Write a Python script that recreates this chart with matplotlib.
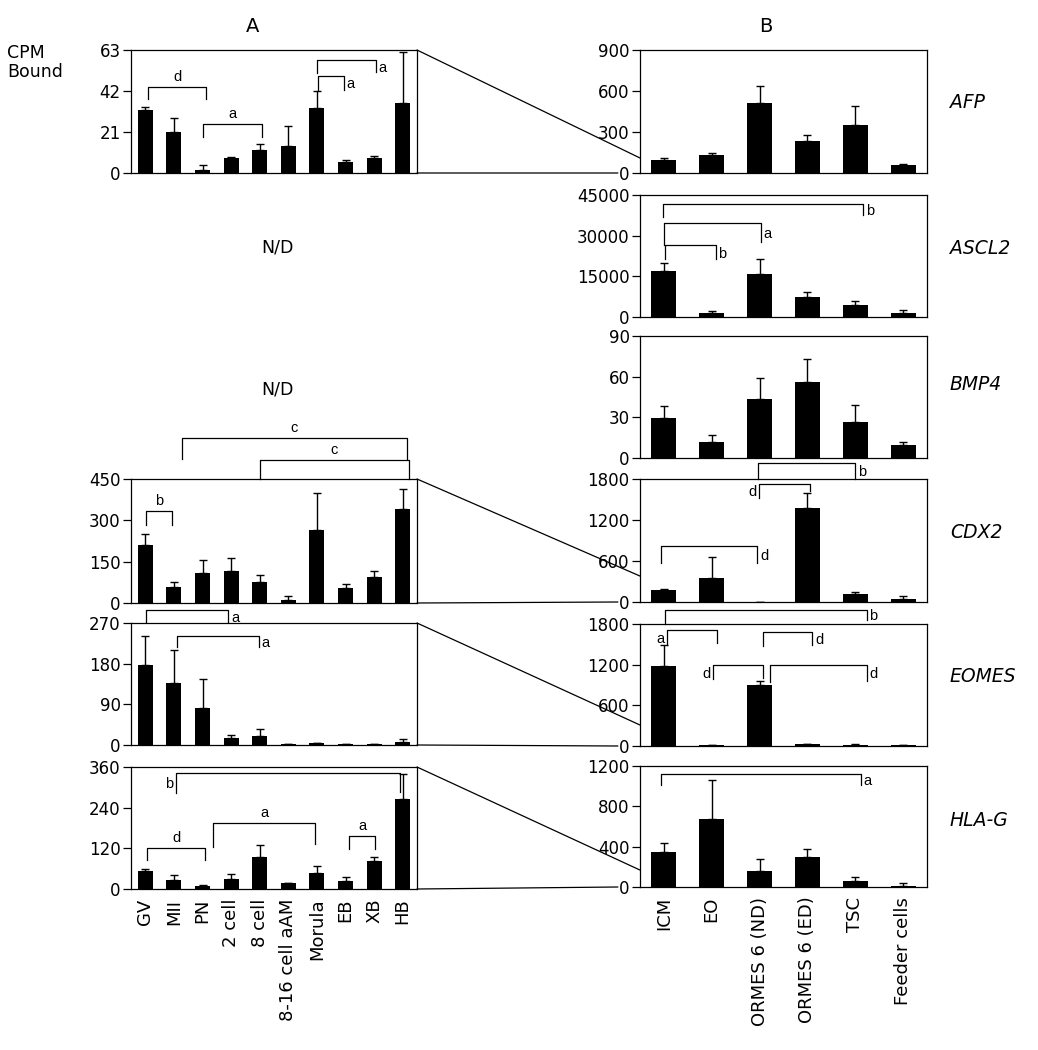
import numpy as np
import matplotlib
matplotlib.use('Agg')
import matplotlib.pyplot as plt
from matplotlib.patches import ConnectionPatch

plt.rcParams['font.family'] = ['DejaVu Sans']

# categories
stages = ['GV', 'MII', 'PN', '2 cell', '8 cell', '8-16 cell aAM', 'Morula', 'EB', 'XB', 'HB']
cells = ['ICM', 'EO', 'ORMES 6 (ND)', 'ORMES 6 (ED)', 'TSC', 'Feeder cells']

# panel A (embryo stages), mean and upper error
afp_a = [32.2, 21.1, 1.7, 7.5, 11.6, 14.0, 33.4, 5.7, 7.5, 35.6]
afp_a_err = [1.7, 7.2, 2.6, 0.9, 3.1, 10.0, 8.7, 0.8, 1.4, 26.2]
cdx2_a = [212, 58, 108, 116, 75, 10, 266, 53, 95, 341]
cdx2_a_err = [40, 17, 49, 46, 25, 15, 134, 17, 21, 73]
eomes_a = [178, 138, 82, 15, 21, 2, 4.4, 2, 2, 6.6]
eomes_a_err = [63, 72, 65, 7, 14, 0.5, 0.6, 0.3, 0.3, 6]
hlag_a = [54, 26, 10, 30, 94, 16.6, 46, 23, 83, 265]
hlag_a_err = [4.5, 15, 2, 14, 37, 0.3, 21, 12, 12, 75]

# panel B (cell lines)
afp_b = [98, 134, 509, 232, 349, 57]
afp_b_err = [12, 10, 127, 44, 144, 11]
ascl2_b = [17137, 1480, 15780, 7400, 4560, 1600]
ascl2_b_err = [2960, 620, 5670, 1850, 1340, 870]
bmp4_b = [29.3, 11.7, 43.5, 56.0, 26.9, 9.3]
bmp4_b_err = [9.3, 5.2, 15.2, 16.9, 12.5, 2.7]
cdx2_b = [172, 358, 5, 1378, 113, 44]
cdx2_b_err = [24, 304, 0, 216, 34, 39]
eomes_b = [1185, 10, 900, 25, 15, 10]
eomes_b_err = [305, 0, 54, 0, 15, 0]
hlag_b = [345, 671, 155, 302, 56, 13]
hlag_b_err = [95, 388, 121, 73, 39, 26]

# significance brackets: (x1, x2, y, leg1 end, leg2 end, letter, label side)
br_afp_a = [(0.1, 2.12, 44.2, 37.7, 37.7, 'd', 'top'),
            (2.0, 4.08, 25.0, 18.5, 18.5, 'a', 'top'),
            (6.0, 8.05, 57.9, 51.0, 51.5, 'a', 'right'),
            (6.05, 6.95, 49.7, 42.5, 42.5, 'a', 'right')]
br_cdx2_a = [(0.03, 0.92, 335, 282, 282, 'b', 'top'),
             (1.28, 9.15, 598, 524, 524, 'c', 'top'),
             (4.0, 9.22, 519, 450, 450, 'c', 'top')]
br_eomes_a = [(0.01, 2.9, 298, 272, 272, 'a', 'right'),
              (1.1, 3.96, 241, 217, 217, 'a', 'right')]
br_hlag_a = [(1.06, 8.9, 343, 282, 285, 'b', 'left'),
             (0.05, 2.1, 121, 85, 85, 'd', 'top'),
             (2.36, 5.94, 195, 124, 132, 'a', 'top'),
             (7.13, 8.04, 157, 119, 119, 'a', 'top')]
br_ascl2_b = [(-0.02, 4.16, 41670, 36990, 37600, 'b', 'right'),
              (0.0, 2.03, 34520, 26500, 27740, 'a', 'right'),
              (0.02, 1.08, 26500, 21330, 21330, 'b', 'right')]
br_cdx2_b = [(1.97, 3.99, 2035, 1800, 1800, 'b', 'right'),
             (1.99, 3.05, 1726, 1520, 1618, 'd', 'left'),
             (-0.07, 1.95, 819, 574, 574, 'd', 'right')]
br_eomes_b = [(0.02, 4.24, 2007, 1800, 1860, 'b', 'right'),
              (0.06, 1.1, 1712, 1490, 1515, 'a', 'left'),
              (2.07, 3.1, 1677, 1476, 1490, 'd', 'right'),
              (1.03, 2.07, 1195, 984, 1000, 'd', 'left'),
              (2.22, 4.24, 1195, 949, 960, 'd', 'right')]
br_hlag_b = [(-0.07, 4.12, 1124, 1009, 1009, 'a', 'right')]

W, H = 1038, 1050
fig = plt.figure(figsize=(W / 100, H / 100), dpi=100)
LETTER_FONT = ['Liberation Sans', 'DejaVu Sans']


def add_ax(x0, x1, ytop, ybot):
    return fig.add_axes([x0 / W, 1 - ybot / H, (x1 - x0) / W, (ybot - ytop) / H])


def panel(ax, vals, errs, ticks, brackets, labels=None):
    n = len(vals)
    x = np.arange(n)
    ax.bar(x, vals, width=0.52, color='black')
    ax.errorbar(x, vals, yerr=[np.zeros(n), errs], fmt='none', ecolor='black',
                elinewidth=1.0, capsize=2.8, capthick=1.0)
    ax.set_xlim(-0.5, n - 0.5)
    ax.set_ylim(0, ticks[-1])
    ax.set_yticks(ticks)
    ax.set_yticklabels([str(t) for t in ticks])
    ax.tick_params(axis='y', length=5.5, width=0.9, labelsize=12, pad=2)
    ax.tick_params(axis='x', length=0, labelsize=13, pad=7)
    if labels is None:
        ax.set_xticks([])
    else:
        ax.set_xticks(x)
        ax.set_xticklabels(labels, rotation=90)
    for s in ax.spines.values():
        s.set_linewidth(0.9)
    for x1, x2, y, l1, l2, txt, side in brackets:
        ax.plot([x1, x1, x2, x2], [l1, y, y, l2], color='black', lw=0.9, clip_on=False)
        kw = dict(textcoords='offset points', fontsize=10.5, family=LETTER_FONT,
                  annotation_clip=False)
        if side == 'top':
            ax.annotate(txt, ((x1 + x2) / 2, y), xytext=(0, 2), ha='center', va='bottom', **kw)
        elif side == 'right':
            ax.annotate(txt, (x2, (y + l2) / 2), xytext=(2, -1), ha='left', va='center', **kw)
        else:
            ax.annotate(txt, (x1, (y + l1) / 2), xytext=(-2, -1), ha='right', va='center', **kw)


def connect(axl, axr, frac):
    for a, b in [((1, 1), (0, frac)), ((1, 0), (-0.077, 0))]:
        con = ConnectionPatch(xyA=a, coordsA=axl.transAxes, xyB=b, coordsB=axr.transAxes,
                              color='black', lw=0.9)
        fig.add_artist(con)


# left column
ax1 = add_ax(131, 417, 50, 173)
panel(ax1, afp_a, afp_a_err, [0, 21, 42, 63], br_afp_a)
ax2 = add_ax(131, 417, 479, 603)
panel(ax2, cdx2_a, cdx2_a_err, [0, 150, 300, 450], br_cdx2_a)
ax3 = add_ax(131, 417, 623, 745)
panel(ax3, eomes_a, eomes_a_err, [0, 90, 180, 270], br_eomes_a)
ax4 = add_ax(131, 417, 767, 889)
panel(ax4, hlag_a, hlag_a_err, [0, 120, 240, 360], br_hlag_a, stages)

# right column
bx1 = add_ax(640, 927, 50, 173)
panel(bx1, afp_b, afp_b_err, [0, 300, 600, 900], [])
bx2 = add_ax(640, 927, 195, 317)
panel(bx2, ascl2_b, ascl2_b_err, [0, 15000, 30000, 45000], br_ascl2_b)
bx3 = add_ax(640, 927, 336, 458)
panel(bx3, bmp4_b, bmp4_b_err, [0, 30, 60, 90], [])
bx4 = add_ax(640, 927, 479, 602)
panel(bx4, cdx2_b, cdx2_b_err, [0, 600, 1200, 1800], br_cdx2_b)
bx5 = add_ax(640, 927, 624, 746)
panel(bx5, eomes_b, eomes_b_err, [0, 600, 1200, 1800], br_eomes_b)
bx6 = add_ax(640, 927, 766, 887)
panel(bx6, hlag_b, hlag_b_err, [0, 400, 800, 1200], br_hlag_b, cells)

connect(ax1, bx1, 0.122)
connect(ax2, bx4, 0.211)
connect(ax3, bx5, 0.172)
connect(ax4, bx6, 0.14)

# texts
fig.text(253 / W, 1 - 27 / H, 'A', ha='center', va='center', fontsize=14)
fig.text(766 / W, 1 - 27 / H, 'B', ha='center', va='center', fontsize=14)
fig.text(7 / W, 1 - 53 / H, 'CPM', ha='left', va='center', fontsize=12.5)
fig.text(7 / W, 1 - 72 / H, 'Bound', ha='left', va='center', fontsize=12.5)
fig.text(277 / W, 1 - 247 / H, 'N/D', ha='center', va='center', fontsize=12.5)
fig.text(277 / W, 1 - 390 / H, 'N/D', ha='center', va='center', fontsize=12.5)
genes = ['AFP', 'ASCL2', 'BMP4', 'CDX2', 'EOMES', 'HLA-G']
gene_y = [103, 248, 385, 532, 677, 820]
for g, gy in zip(genes, gene_y):
    fig.text(950 / W, 1 - gy / H, g, ha='left', va='center', fontsize=13.5, style='italic')

fig.savefig('out.png', dpi=100)
